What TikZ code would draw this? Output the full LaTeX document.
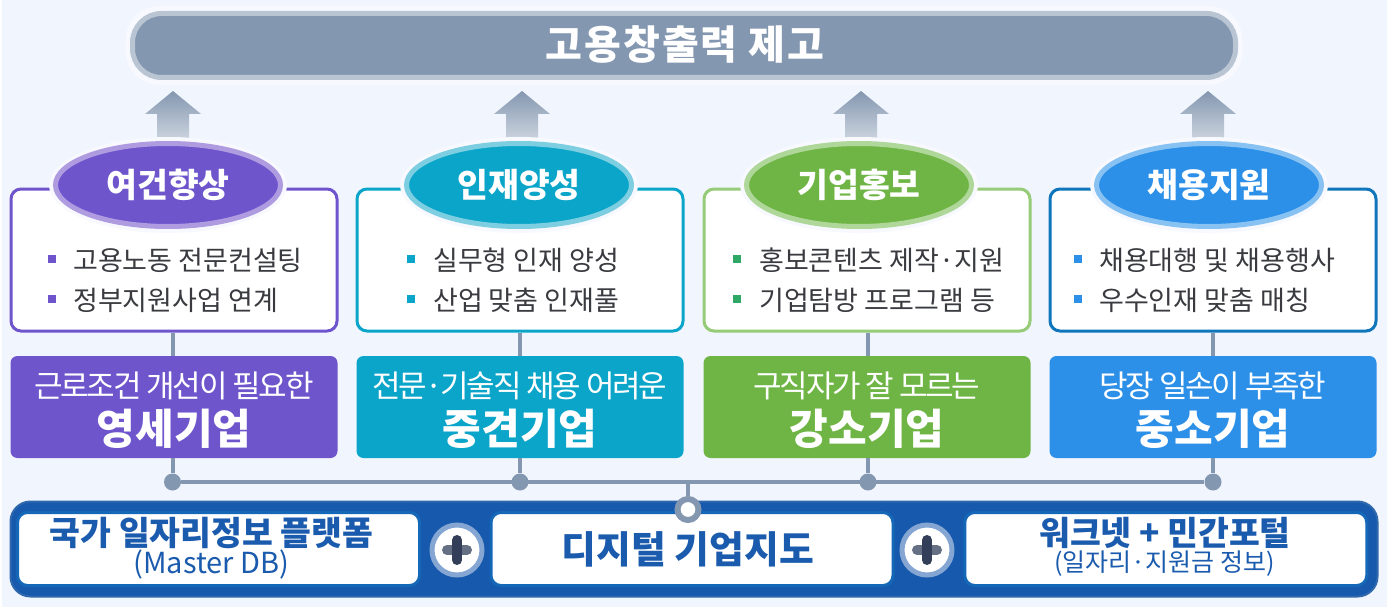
\documentclass[tikz,border=0pt]{standalone}
\usepackage{fontspec}
\setmainfont{Noto Sans CJK KR}
\newfontfamily\tightfont[LetterSpace=-7]{Noto Sans CJK KR}
\newfontfamily\titlefont[LetterSpace=5]{Noto Sans CJK KR}
\usetikzlibrary{shapes.geometric}
\definecolor{pageblue}{HTML}{F1F5FE}
\definecolor{halo}{HTML}{F7F9FF}
\definecolor{slate}{HTML}{8497B0}
\definecolor{slatering}{HTML}{B9C5D3}
\definecolor{bodytext}{HTML}{3A3B40}
\definecolor{band}{HTML}{1759AC}
\definecolor{bandedge}{HTML}{2F68AC}
\definecolor{boxedge}{HTML}{1568B8}
\definecolor{navytext}{HTML}{1B5BAE}
\definecolor{plusring}{HTML}{85A5D3}
\definecolor{plusdark}{HTML}{333F58}
\definecolor{plusgray}{HTML}{667084}
\definecolor{pur}{HTML}{6E55CC}\definecolor{purring}{HTML}{AE9BE0}\definecolor{puredge}{HTML}{6E55CC}\definecolor{purdot}{HTML}{6E55CC}
\definecolor{cya}{HTML}{0BA5C9}\definecolor{cyaring}{HTML}{7CCEE0}\definecolor{cyaedge}{HTML}{0BA5C9}\definecolor{cyadot}{HTML}{0BA5C9}
\definecolor{gre}{HTML}{6FB545}\definecolor{grering}{HTML}{B0D79A}\definecolor{greedge}{HTML}{96CB78}\definecolor{gredot}{HTML}{2EA865}
\definecolor{blu}{HTML}{2C8FE8}\definecolor{bluring}{HTML}{88C2F2}\definecolor{bluedge}{HTML}{0F76BB}\definecolor{bludot}{HTML}{2C8FE8}
\tikzset{
  pill/.style={rounded corners=29pt,draw=slatering,fill=slate,line width=5pt,minimum width=1103pt,minimum height=64pt,inner sep=0pt},
  pillhalo/.style={rounded corners=34pt,fill=halo,minimum width=1117pt,minimum height=79pt,inner sep=0pt},
  ovalhalo/.style={ellipse,fill=halo,minimum width=238pt,minimum height=96pt,inner sep=0pt},
  oval/.style={ellipse,draw=#1ring,fill=#1,line width=5pt,minimum width=225pt,minimum height=83pt,inner sep=0pt,text=white,font=\fontsize{33.5}{38}\selectfont\bfseries},
  listbox/.style={rounded corners=10pt,draw=#1edge,fill=white,line width=3pt,minimum width=326pt,minimum height=142pt,inner sep=0pt},
  solidbox/.style={rounded corners=7pt,fill=#1,minimum width=327pt,minimum height=102pt,inner sep=0pt},
  bullet/.style={fill=#1dot,minimum size=8pt,inner sep=0pt},
  listtext/.style={anchor=west,inner sep=0pt,text=bodytext,font=\fontsize{27}{32}\selectfont},
  lineone/.style={inner sep=0pt,text=white,font=\fontsize{31}{36}\selectfont\tightfont},
  linetwo/.style={inner sep=0pt,text=white,font=\fontsize{42}{48}\selectfont\bfseries},
  link/.style={draw=slate,line width=4pt},
  junction/.style={circle,fill=slate,minimum size=17pt,inner sep=0pt},
  bandbox/.style={rounded corners=20pt,draw=bandedge,fill=band,line width=2pt,minimum width=1367pt,minimum height=95pt,inner sep=0pt},
  whitebox/.style={rounded corners=10pt,draw=boxedge,fill=white,line width=3pt,minimum width=402pt,minimum height=73pt,inner sep=0pt},
  navybold/.style={inner sep=0pt,text=navytext,font=\fontsize{#1}{#1}\selectfont\bfseries},
  navyplain/.style={inner sep=0pt,text=navytext,font=\fontsize{#1}{#1}\selectfont},
  plusdisc/.style={circle,draw=plusring,fill=white,line width=5pt,minimum size=50pt,inner sep=0pt},
  hub/.style={circle,draw=slate,fill=white,line width=6pt,minimum size=21pt,inner sep=0pt},
}
\begin{document}
\begin{tikzpicture}[x=1pt,y=-1pt]
\useasboundingbox (0,0) rectangle (1387,607);
\fill[white] (0,0) rectangle (1387,607);
\fill[pageblue] (2,0) rectangle (1387,607);
% title
\node[pillhalo] (th) at (684,45.5) {};
\node[pill] (title) at (684,45.5) {};
\node[inner sep=0pt,text=white,font=\fontsize{40}{46}\selectfont\titlefont\bfseries] (tt) at (685,45) {고용창출력 제고};
% four columns
\foreach \n/\c/\xb/\xe/\xa/\xd/\xs/\xt/\head/\ia/\ib/\la/\lb in {
 1/pur/174/168/173/172.5/52/73/여건향상/고용노동 전문컨설팅/정부지원사업 연계/근로조건 개선이 필요한/영세기업,
 2/cya/520/519/522/520/411/433/인재양성/실무형 인재 양성/산업 맞춤 인재풀/전문·기술직 채용 어려운/중견기업,
 3/gre/867/859/861/868/737/759/기업홍보/홍보콘텐츠 제작·지원/기업탐방 프로그램 등/구직자가 잘 모르는/강소기업,
 4/blu/1213/1209/1208/1213/1078/1099/채용지원/채용대행 및 채용행사/우수인재 맞춤 매칭/당장 일손이 부족한/중소기업}
{
  \shade[top color=slate,bottom color=slatering!60!white]
    (\xa,91) -- (\xa+28,114) -- (\xa+16,114) -- (\xa+16,146) -- (\xa-16,146) -- (\xa-16,114) -- (\xa-28,114) -- cycle;
  \node[listbox=\c] (b\n) at (\xb,260) {};
  \node[solidbox=\c] (f\n) at (\xb,407) {};
  \node[junction] (d\n) at (\xd,482) {};
  \draw[link] (d\n |- b\n.south) -- (d\n |- f\n.north);
  \draw[link] (d\n |- f\n.south) -- (d\n);
  \node[ovalhalo] (h\n) at (\xe,185) {};
  \node[oval=\c] (e\n) at (\xe,185) {\head};
  \node[bullet=\c] (sa\n) at (\xs,259) {};
  \node[bullet=\c] (sb\n) at (\xs,299) {};
  \node[listtext] (ta\n) at (\xt,260) {\ia};
  \node[listtext] (tb\n) at (\xt,300) {\ib};
  \node[lineone] (la\n) at (\xb,386) {\la};
  \node[linetwo] (lb\n) at (\xb,429) {\lb};
}
\draw[link] (d1) -- (d4);
% bottom band
\node[bandbox] (band) at (694,549) {};
\node[whitebox] (w1) at (218.5,549) {};
\node[whitebox] (w2) at (692,549) {};
\node[whitebox] (w3) at (1165.75,549) {};
\node[hub] (hub) at (688,509.5) {};
\draw[link] (hub.north) -- (hub.north |- d1);
\node[navybold=33.5] (w1a) at (211.5,533) {국가 일자리정보 플랫폼};
\node[navyplain=29] (w1b) at (211.5,564) {(Master DB)};
\node[navybold=37.8] (w2a) at (688,549) {디지털 기업지도};
\node[navybold=33.5] (w3a) at (1165,533) {워크넷 + 민간포털};
\node[navyplain=25] (w3b) at (1164.5,564) {(일자리·지원금 정보)};
\foreach \n/\x in {1/457,2/927}{
  \node[plusdisc] (p\n) at (\x,550) {};
  \draw[plusgray,line width=10pt,line cap=round] ([xshift=-10pt]p\n.center) -- ([xshift=10pt]p\n.center);
  \draw[plusdark,line width=10pt,line cap=round] ([yshift=-10pt]p\n.center) -- ([yshift=10pt]p\n.center);
}
\end{tikzpicture}
\end{document}
